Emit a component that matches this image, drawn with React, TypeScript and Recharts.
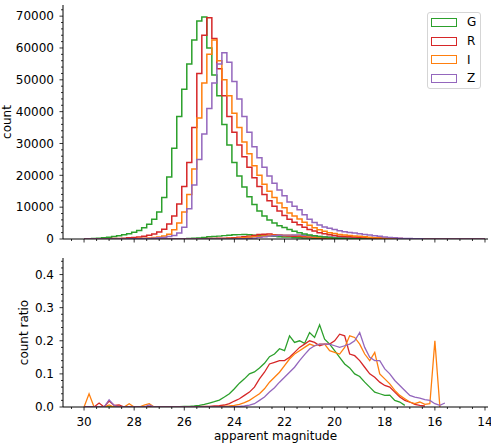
import React from 'react'
import { LineChart, Line, XAxis, YAxis, Legend } from 'recharts'

// bin centres (apparent magnitude), shared by both panels
const MAGS = [
  30.0, 29.8, 29.6, 29.4, 29.2, 29.0, 28.8, 28.6, 28.4, 28.2,
  28.0, 27.8, 27.6, 27.4, 27.2, 27.0, 26.8, 26.6, 26.4, 26.2,
  26.0, 25.8, 25.6, 25.4, 25.2, 25.0, 24.8, 24.6, 24.4, 24.2,
  24.0, 23.8, 23.6, 23.4, 23.2, 23.0, 22.8, 22.6, 22.4, 22.2,
  22.0, 21.8, 21.6, 21.4, 21.2, 21.0, 20.8, 20.6, 20.4, 20.2,
  20.0, 19.8, 19.6, 19.4, 19.2, 19.0, 18.8, 18.6, 18.4, 18.2,
  18.0, 17.8, 17.6, 17.4, 17.2, 17.0, 16.8, 16.6, 16.4, 16.2,
  16.0, 15.8, 15.6, 15.4, 15.2, 15.0, 14.8, 14.6, 14.4, 14.2,
  14.0,
]

// top panel: counts per bin
const G_COUNT = [
  50, 100, 150, 250, 400, 550, 750, 1000, 1300, 1650,
  2100, 2700, 3500, 4600, 6200, 8500, 13000, 19500, 28500, 38500,
  47000, 55000, 62500, 68500, 69700, 60000, 51500, 45000, 36000, 29500,
  24000, 19800, 16300, 13300, 10800, 8800, 7200, 6000, 5000, 4200,
  3600, 3000, 2400, 2000, 1600, 1250, 1000, 800, 600, 450,
  350, 270, 200, 150, 110, 80, 60, 45, 30, 20,
  15, 10, 8, 6, 4, 3, 2, 1, 0, 0,
]
const R_COUNT = [
  10, 20, 30, 50, 70, 100, 140, 190, 260, 360,
  500, 650, 850, 1150, 1550, 2200, 3100, 4700, 7200, 11000,
  16500, 24000, 35000, 52000, 64000, 69500, 63000, 53500, 45000, 38500,
  33500, 29500, 25800, 22500, 19200, 16500, 14000, 12000, 10300, 8800,
  7400, 6200, 5300, 4500, 3700, 3000, 2500, 2000, 1650, 1350,
  1100, 900, 780, 680, 600, 530, 460, 400, 340, 280,
  230, 190, 150, 120, 90, 70, 50, 35, 25, 15,
  10, 6, 4, 2, 1, 0,
]
const I_COUNT = [
  0, 0, 5, 8, 12, 18, 25, 35, 50, 75,
  110, 160, 230, 330, 450, 650, 950, 1500, 2900, 5000,
  8500, 14000, 22000, 38000, 49000, 58000, 62500, 56000, 50000, 45000,
  39500, 35000, 30500, 26800, 23000, 20000, 17200, 15000, 13000, 11300,
  9800, 8200, 7200, 6300, 5300, 4300, 3500, 2900, 2400, 2000,
  1700, 1450, 1250, 1080, 950, 830, 700, 580, 420, 310,
  240, 190, 150, 110, 85, 65, 50, 38, 28, 20,
  14, 10, 7, 4, 2, 1, 0,
]
const Z_COUNT = [
  0, 0, 0, 3, 5, 8, 12, 18, 28, 42,
  60, 90, 130, 190, 270, 380, 480, 750, 1100, 1900,
  3700, 9500, 17000, 25000, 33000, 41000, 49000, 55000, 58500, 55500,
  49500, 44000, 38500, 33500, 29000, 25500, 22500, 19800, 17500, 15400,
  13600, 11600, 10300, 9200, 7600, 6200, 5200, 4400, 3800, 3400,
  3000, 2600, 2300, 2050, 1850, 1650, 1450, 1250, 1050, 850,
  650, 500, 360, 260, 180, 120, 80, 50, 30, 20,
  10, 5, 3, 1, 0,
]

// top panel: the small sub-sample histograms
const G_SUB = [
  0, 0, 0, 0, 0, 0, 0, 0, 0, 0,
  0, 0, 0, 0, 0, 5, 10, 20, 40, 70,
  110, 170, 250, 340, 500, 720, 800, 900, 1050, 1180,
  1320, 1380, 1400, 1330, 1200, 1060, 1000, 930, 830, 730,
  620, 610, 470, 400, 310, 275, 210, 200, 125, 85,
  58, 38, 27, 17, 11, 7, 4, 3, 1, 1,
]
const R_SUB = [
  0, 0, 0, 0, 0, 0, 0, 0, 0, 0,
  0, 0, 0, 0, 0, 0, 0, 0, 0, 5,
  10, 20, 30, 60, 100, 140, 200, 270, 290, 310,
  400, 590, 700, 900, 1150, 1400, 1470, 1560, 1390, 1250,
  1040, 930, 870, 810, 700, 600, 490, 370, 310, 256,
  220, 200, 168, 110, 93, 74, 55, 40, 31, 20,
  16, 12, 7, 4, 2, 1,
]
const I_SUB = [
  0, 0, 0, 0, 0, 0, 0, 0, 0, 0,
  0, 0, 0, 0, 0, 0, 0, 0, 0, 0,
  0, 0, 0, 10, 20, 30, 40, 56, 70, 135,
  200, 280, 400, 540, 690, 800, 950, 1125, 1170, 1190,
  1220, 1200, 1150, 1090, 990, 820, 650, 550, 450, 330,
  280, 230, 225, 230, 200, 160, 110, 80, 50, 31,
  24, 13, 8, 4, 2, 1, 1, 0, 0, 3,
  3,
]
const Z_SUB = [
  0, 0, 0, 0, 0, 0, 0, 0, 0, 0,
  0, 0, 0, 0, 0, 0, 0, 0, 0, 0,
  0, 0, 0, 0, 0, 0, 0, 0, 10, 30,
  50, 80, 120, 200, 290, 510, 680, 890, 1015, 1155,
  1225, 1220, 1240, 1290, 1200, 1085, 960, 836, 720, 646,
  555, 470, 425, 390, 370, 330, 260, 190, 150, 120,
  75, 50, 29, 17, 9, 4, 2, 1, 1,
]

// bottom panel: count ratio
const G_RATIO = [
  0, 0, 0, 0, 0, 0, 0, 0, 0, 0,
  0, 0, 0, 0, 0, 0, 0, 0, 0.001, 0.001,
  0.002, 0.002, 0.003, 0.005, 0.008, 0.012, 0.016, 0.021, 0.03, 0.04,
  0.055, 0.072, 0.085, 0.1, 0.106, 0.118, 0.132, 0.152, 0.16, 0.176,
  0.17, 0.215, 0.195, 0.2, 0.192, 0.225, 0.21, 0.248, 0.205, 0.19,
  0.17, 0.15, 0.13, 0.118, 0.1, 0.092, 0.075, 0.06, 0.045, 0.04,
  0.035, 0.036, 0.02, 0.015, 0.005,
]
const R_RATIO = [
  0, 0, 0, 0.012, 0, 0.018, 0.005, 0.006, 0, 0,
  0, 0, 0, 0, 0, 0, 0, 0, 0, 0,
  0, 0, 0.001, 0.001, 0.002, 0.002, 0.003, 0.004, 0.006, 0.01,
  0.018, 0.025, 0.035, 0.045, 0.06, 0.085, 0.105, 0.13, 0.135, 0.14,
  0.14, 0.15, 0.165, 0.18, 0.19, 0.2, 0.195, 0.185, 0.19, 0.19,
  0.2, 0.22, 0.215, 0.16, 0.155, 0.14, 0.12, 0.1, 0.09, 0.075,
  0.065, 0.06, 0.045, 0.03, 0.02, 0.015, 0.008, 0.005, 0.003,
]
const I_RATIO = [
  0, 0.04, 0, 0, 0, 0.006, 0, 0, 0, 0.01,
  0, 0, 0.006, 0.01, 0, 0, 0, 0, 0, 0,
  0, 0, 0, 0, 0, 0, 0, 0.001, 0.002, 0.003,
  0.005, 0.008, 0.013, 0.02, 0.03, 0.04, 0.055, 0.075, 0.09, 0.105,
  0.125, 0.145, 0.16, 0.17, 0.18, 0.19, 0.185, 0.19, 0.19, 0.17,
  0.165, 0.16, 0.18, 0.215, 0.21, 0.19, 0.16, 0.14, 0.165, 0.1,
  0.085, 0.07, 0.05, 0.035, 0.025, 0.015, 0.01, 0.015, 0.008, 0.01,
  0.2, 0,
]
const Z_RATIO = [
  0, 0, 0, 0, 0, 0.022, 0.005, 0, 0, 0,
  0, 0, 0, 0.006, 0, 0, 0, 0, 0, 0,
  0, 0, 0, 0, 0, 0, 0, 0, 0, 0,
  0.001, 0.002, 0.003, 0.006, 0.01, 0.02, 0.03, 0.045, 0.058, 0.075,
  0.09, 0.105, 0.12, 0.14, 0.158, 0.175, 0.185, 0.19, 0.19, 0.19,
  0.185, 0.18, 0.185, 0.19, 0.2, 0.225, 0.18, 0.15, 0.14, 0.14,
  0.115, 0.1, 0.08, 0.065, 0.05, 0.035, 0.03, 0.027, 0.022, 0.02,
  0.01, 0.005, 0.012,
]

const X_MAJOR = [30, 28, 26, 24, 22, 20, 18, 16, 14]
const X_TICKS = Array.from({ length: 34 }, (_, i) => 30.5 - i * 0.5)
const COUNT_TICKS = Array.from({ length: 37 }, (_, i) => i * 2000)
const RATIO_TICKS = Array.from({ length: 23 }, (_, i) => (i * 2) / 100)

const BANDS = ['G', 'R', 'I', 'Z']
const COLORS: Record<string, string> = { G: '#2ca02c', R: '#d62728', I: '#ff7f0e', Z: '#9467bd' }
const FONT = "'DejaVu Sans', sans-serif"
const X_DOMAIN = [13.88, 30.84]

const topRows = MAGS.map((mag, i) => ({
  mag,
  G: G_COUNT[i] ?? 0,
  R: R_COUNT[i] ?? 0,
  I: I_COUNT[i] ?? 0,
  Z: Z_COUNT[i] ?? 0,
  Gs: G_SUB[i] ?? 0,
  Rs: R_SUB[i] ?? 0,
  Is: I_SUB[i] ?? 0,
  Zs: Z_SUB[i] ?? 0,
}))

const ratioRows = MAGS.map((mag, i) => ({
  mag,
  G: G_RATIO[i] ?? null,
  R: R_RATIO[i] ?? null,
  I: I_RATIO[i] ?? null,
  Z: Z_RATIO[i] ?? null,
}))

function makeXTick(showLabel: boolean) {
  return (props: any) => {
    const { x, y, payload } = props
    const v = payload.value
    const major = X_MAJOR.includes(v)
    return (
      <g>
        <line x1={x} x2={x} y1={y} y2={y + (major ? 3.5 : 2)} stroke="#000" strokeWidth={0.8} />
        {major && showLabel && (
          <text x={x} y={y + 19} textAnchor="middle" fontSize={12} fontFamily={FONT} fill="#000">
            {v}
          </text>
        )}
      </g>
    )
  }
}

function makeYTick(isMajor: (v: number) => boolean, fmt: (v: number) => string) {
  return (props: any) => {
    const { x, y, payload } = props
    const v = payload.value
    const major = isMajor(v)
    return (
      <g>
        <line x1={x - (major ? 3.5 : 2)} x2={x} y1={y} y2={y} stroke="#000" strokeWidth={0.8} />
        {major && (
          <text x={x - 9} y={y + 4.3} textAnchor="end" fontSize={12} fontFamily={FONT} fill="#000">
            {fmt(v)}
          </text>
        )}
      </g>
    )
  }
}

function yTitle(text: string, baselineX: number) {
  return (p: any) => {
    const vb = p.viewBox
    const cy = vb.y + vb.height / 2
    return (
      <text
        x={baselineX}
        y={cy}
        transform={`rotate(-90 ${baselineX} ${cy})`}
        textAnchor="middle"
        fontSize={12}
        fontFamily={FONT}
        fill="#000"
      >
        {text}
      </text>
    )
  }
}

function xTitle(p: any) {
  const vb = p.viewBox
  return (
    <text x={vb.x + vb.width / 2} y={vb.y + 33} textAnchor="middle" fontSize={12} fontFamily={FONT} fill="#000">
      apparent magnitude
    </text>
  )
}

function LegendBox(props: any) {
  const items = (props.payload || [])
    .filter((p: any) => p.type !== 'none' && BANDS.includes(p.value))
    .sort((a: any, b: any) => BANDS.indexOf(a.value) - BANDS.indexOf(b.value))
  return (
    <div
      style={{
        width: 54,
        height: 77,
        boxSizing: 'border-box',
        border: '1px solid #d5d5d5',
        borderRadius: 3,
        background: 'rgba(255,255,255,0.8)',
        position: 'relative',
        fontFamily: FONT,
        fontSize: 12,
      }}
    >
      {items.map((it: any, i: number) => (
        <div
          key={it.value}
          style={{ position: 'absolute', left: 3, top: i * 18.7, height: 18.7, display: 'flex', alignItems: 'center' }}
        >
          <span style={{ width: 26, height: 9, boxSizing: 'border-box', border: `1.3px solid ${it.color}` }} />
          <span style={{ marginLeft: 10, color: '#000', lineHeight: '14px' }}>{it.value}</span>
        </div>
      ))}
    </div>
  )
}

const frameAxes = (
  <>
    <XAxis xAxisId="top" orientation="top" type="number" domain={[0, 1]} height={0} tick={false} tickLine={false} axisLine={{ stroke: '#000' }} />
    <YAxis yAxisId="right" orientation="right" type="number" domain={[0, 1]} width={0} tick={false} tickLine={false} axisLine={{ stroke: '#000' }} />
  </>
)

export default function App() {
  return (
    <div style={{ position: 'absolute', left: 0, top: 0, width: 491, height: 444, background: '#fff' }}>
      <div style={{ position: 'absolute', left: 0, top: 0 }}>
        <LineChart width={491} height={250} data={topRows} margin={{ top: 5, right: 3, bottom: 0, left: 0 }}>
          <XAxis
            dataKey="mag"
            type="number"
            domain={X_DOMAIN}
            reversed
            allowDataOverflow
            ticks={X_TICKS}
            interval={0}
            height={11}
            tickSize={0}
            tickMargin={0}
            tickLine={false}
            axisLine={{ stroke: '#000' }}
            tick={makeXTick(false)}
          />
          <YAxis
            type="number"
            domain={[0, 73500]}
            allowDataOverflow
            ticks={COUNT_TICKS}
            interval={0}
            width={63}
            tickSize={0}
            tickMargin={0}
            tickLine={false}
            axisLine={{ stroke: '#000' }}
            tick={makeYTick((v) => v % 10000 === 0, (v) => String(v))}
            label={yTitle('count', 10.5)}
          />
          {frameAxes}
          {BANDS.map((b) => (
            <Line
              key={b + 's'}
              dataKey={b + 's'}
              type="step"
              stroke={COLORS[b]}
              strokeWidth={1.4}
              dot={false}
              activeDot={false}
              legendType="none"
              isAnimationActive={false}
            />
          ))}
          {BANDS.map((b) => (
            <Line
              key={b}
              dataKey={b}
              name={b}
              type="step"
              stroke={COLORS[b]}
              strokeWidth={1.5}
              dot={false}
              activeDot={false}
              isAnimationActive={false}
            />
          ))}
          <Legend
            layout="horizontal"
            verticalAlign="middle"
            align="center"
            content={LegendBox}
            wrapperStyle={{ top: 12, left: 427, width: 54, height: 77 }}
          />
        </LineChart>
      </div>
      <div style={{ position: 'absolute', left: 0, top: 250 }}>
        <LineChart width={491} height={194} data={ratioRows} margin={{ top: 8, right: 3, bottom: 0, left: 0 }}>
          <XAxis
            dataKey="mag"
            type="number"
            domain={X_DOMAIN}
            reversed
            allowDataOverflow
            ticks={X_TICKS}
            interval={0}
            height={37}
            tickSize={0}
            tickMargin={0}
            tickLine={false}
            axisLine={{ stroke: '#000' }}
            tick={makeXTick(true)}
            label={xTitle}
          />
          <YAxis
            type="number"
            domain={[0, 0.45]}
            allowDataOverflow
            ticks={RATIO_TICKS}
            interval={0}
            width={63}
            tickSize={0}
            tickMargin={0}
            tickLine={false}
            axisLine={{ stroke: '#000' }}
            tick={makeYTick((v) => Math.round(v * 100) % 10 === 0, (v) => v.toFixed(1))}
            label={yTitle('count ratio', 28)}
          />
          {frameAxes}
          {BANDS.map((b) => (
            <Line
              key={b}
              dataKey={b}
              type="linear"
              stroke={COLORS[b]}
              strokeWidth={1.3}
              dot={false}
              activeDot={false}
              isAnimationActive={false}
            />
          ))}
        </LineChart>
      </div>
    </div>
  )
}
